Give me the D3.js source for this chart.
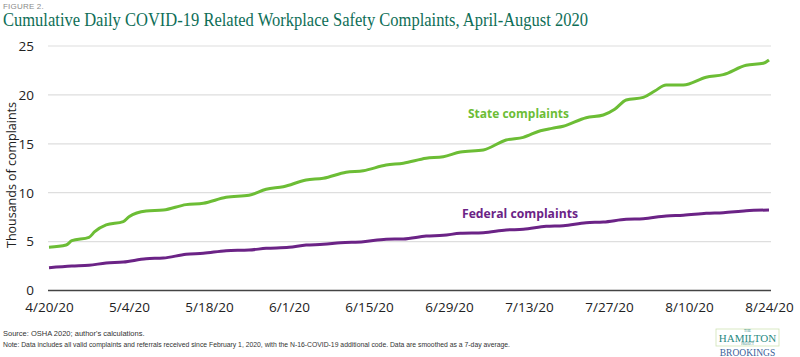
<!DOCTYPE html>
<html>
<head>
<meta charset="utf-8">
<script src="https://cdn.jsdelivr.net/npm/d3@7"></script>
<style>
  html, body { margin: 0; padding: 0; background: #fff; }
  svg { display: block; }
</style>
</head>
<body>
<svg id="chart" width="800" height="357"></svg>
<script>
// ---- Data (thousands of complaints, cumulative, 7-day smoothed) ----
const stateDates = ["2020-04-20","2020-04-23","2020-04-24","2020-04-27","2020-04-28","2020-04-30","2020-05-03","2020-05-04","2020-05-07","2020-05-10","2020-05-14","2020-05-17","2020-05-21","2020-05-25","2020-05-28","2020-05-31","2020-06-04","2020-06-07","2020-06-11","2020-06-14","2020-06-18","2020-06-21","2020-06-25","2020-06-28","2020-07-01","2020-07-05","2020-07-09","2020-07-12","2020-07-15","2020-07-17","2020-07-19","2020-07-23","2020-07-26","2020-07-28","2020-07-30","2020-08-02","2020-08-04","2020-08-06","2020-08-09","2020-08-13","2020-08-16","2020-08-20","2020-08-23","2020-08-24"];
const stateValues = [4.42,4.65,5.09,5.44,6.01,6.70,7.04,7.55,8.13,8.23,8.78,8.92,9.53,9.73,10.35,10.61,11.30,11.47,12.09,12.25,12.83,13.01,13.52,13.68,14.16,14.37,15.39,15.66,16.34,16.58,16.79,17.67,17.94,18.53,19.48,19.75,20.40,21.01,21.01,21.80,22.07,23.03,23.23,23.57];

const federalDates = ["2020-04-20","2020-04-24","2020-04-27","2020-04-30","2020-05-03","2020-05-07","2020-05-10","2020-05-14","2020-05-17","2020-05-21","2020-05-25","2020-05-28","2020-06-01","2020-06-04","2020-06-07","2020-06-10","2020-06-14","2020-06-18","2020-06-21","2020-06-25","2020-06-28","2020-07-01","2020-07-05","2020-07-09","2020-07-12","2020-07-16","2020-07-19","2020-07-23","2020-07-26","2020-07-30","2020-08-02","2020-08-06","2020-08-09","2020-08-13","2020-08-16","2020-08-20","2020-08-24"];
const federalValues = [2.33,2.50,2.58,2.81,2.91,3.25,3.32,3.70,3.80,4.07,4.14,4.31,4.42,4.65,4.72,4.89,4.99,5.24,5.27,5.57,5.64,5.85,5.91,6.19,6.26,6.56,6.63,6.93,7.00,7.28,7.34,7.62,7.69,7.89,7.96,8.16,8.23];

const xTickDates = ["2020-04-20","2020-05-04","2020-05-18","2020-06-01","2020-06-15","2020-06-29","2020-07-13","2020-07-27","2020-08-10","2020-08-24"];
const yTickValues = [0,5,10,15,20,25];

const seriesNames = ["State complaints","Federal complaints"];

// ---- Setup ----
const parse = d3.timeParse("%Y-%m-%d");
const svg = d3.select("#chart");
const green = "#6cbd35", purple = "#6b2386";

const x = d3.scaleTime()
  .domain([parse("2020-04-20"), parse("2020-08-24")])
  .range([49, 769]);
const y = d3.scaleLinear().domain([0, 25]).range([290.5, 46]);

// Title
svg.append("text").attr("x", 3).attr("y", 9)
  .attr("font-family", "Liberation Sans, Arial, sans-serif")
  .attr("font-size", 8).attr("fill", "#8a8a8a").attr("letter-spacing", 0.2)
  .text("FIGURE 2.");
svg.append("text").attr("x", 3).attr("y", 26)
  .attr("font-family", "Liberation Serif, Times New Roman, serif")
  .attr("font-size", 18).attr("fill", "#0e6e57")
  .attr("textLength", 585).attr("lengthAdjust", "spacingAndGlyphs")
  .text("Cumulative Daily COVID-19 Related Workplace Safety Complaints, April-August 2020");

// Gridlines
svg.append("g").selectAll("line").data(yTickValues.filter(v => v > 0)).join("line")
  .attr("x1", 48).attr("x2", 771)
  .attr("y1", d => y(d)).attr("y2", d => y(d))
  .attr("stroke", "#dedede").attr("stroke-width", 1.2);

// Y axis
const yAxis = d3.axisLeft(y).tickValues(yTickValues).tickSize(0).tickPadding(0);
const yg = svg.append("g").attr("transform", "translate(34,0)").call(yAxis);
yg.select(".domain").remove();
yg.selectAll("text")
  .attr("font-family", "Open Sans, sans-serif")
  .attr("font-size", 13.5).attr("fill", "#222");

// Baseline
svg.append("line").attr("x1", 48).attr("x2", 771)
  .attr("y1", y(0)).attr("y2", y(0))
  .attr("stroke", "#444").attr("stroke-width", 1.3);

// X axis
const xAxis = d3.axisBottom(x)
  .tickValues(xTickDates.map(parse))
  .tickFormat(d3.timeFormat("%-m/%-d/%y"))
  .tickSize(0).tickPadding(0);
const xg = svg.append("g").attr("transform", "translate(0,302.5)").call(xAxis);
xg.select(".domain").remove();
xg.selectAll("text")
  .attr("font-family", "Open Sans, sans-serif")
  .attr("font-size", 13.5).attr("fill", "#222");

// Y axis title
svg.append("text")
  .attr("transform", "translate(16,175) rotate(-90)")
  .attr("text-anchor", "middle")
  .attr("font-family", "Open Sans, sans-serif")
  .attr("font-size", 13.5).attr("fill", "#222")
  .attr("textLength", 146).attr("lengthAdjust", "spacingAndGlyphs")
  .text("Thousands of complaints");

// Lines
const line = d3.line().x(d => x(d[0])).y(d => y(d[1])).curve(d3.curveMonotoneX);
const stateData = stateDates.map((d, i) => [parse(d), stateValues[i]]);
const fedData = federalDates.map((d, i) => [parse(d), federalValues[i]]);

svg.append("path").datum(fedData).attr("d", line)
  .attr("fill", "none").attr("stroke", purple).attr("stroke-width", 3)
  .attr("stroke-linejoin", "round");
svg.append("path").datum(stateData).attr("d", line)
  .attr("fill", "none").attr("stroke", green).attr("stroke-width", 3)
  .attr("stroke-linejoin", "round");

// Series labels
svg.append("text").attr("x", 468).attr("y", 118)
  .attr("font-family", "Open Sans, sans-serif").attr("font-weight", "bold")
  .attr("font-size", 13).attr("fill", green)
  .attr("textLength", 101).attr("lengthAdjust", "spacingAndGlyphs")
  .text(seriesNames[0]);
svg.append("text").attr("x", 462).attr("y", 218)
  .attr("font-family", "Open Sans, sans-serif").attr("font-weight", "bold")
  .attr("font-size", 13).attr("fill", purple)
  .attr("textLength", 116).attr("lengthAdjust", "spacingAndGlyphs")
  .text(seriesNames[1]);

// Source / note
svg.append("text").attr("x", 3).attr("y", 335.5)
  .attr("font-family", "Liberation Sans, Arial, sans-serif")
  .attr("font-size", 7.5).attr("fill", "#333")
  .text("Source: OSHA 2020; author's calculations.");
svg.append("text").attr("x", 3).attr("y", 346.5)
  .attr("font-family", "Liberation Sans, Arial, sans-serif")
  .attr("font-size", 7.5).attr("fill", "#333")
  .attr("textLength", 507).attr("lengthAdjust", "spacingAndGlyphs")
  .text("Note: Data includes all valid complaints and referrals received since February 1, 2020, with the N-16-COVID-19 additional code. Data are smoothed as a 7-day average.");

// Logo
const logo = svg.append("g");
logo.append("rect").attr("x", 716).attr("y", 329).attr("width", 63).attr("height", 17)
  .attr("fill", "none").attr("stroke", "#cfe3b4").attr("stroke-width", 0.8);
logo.append("text").attr("x", 747.5).attr("y", 332)
  .attr("text-anchor", "middle").attr("font-family", "Liberation Serif, serif")
  .attr("font-size", 3.5).attr("fill", "#2a7f78").text("THE");
logo.append("text").attr("x", 747.5).attr("y", 341.5)
  .attr("text-anchor", "middle").attr("font-family", "Liberation Serif, serif")
  .attr("font-size", 11).attr("fill", "#2a8a82").text("HAMILTON");
logo.append("text").attr("x", 747.5).attr("y", 345.3)
  .attr("text-anchor", "middle").attr("font-family", "Liberation Serif, serif")
  .attr("font-size", 3).attr("fill", "#2a7f78").text("PROJECT");
logo.append("text").attr("x", 747.5).attr("y", 356)
  .attr("text-anchor", "middle").attr("font-family", "Liberation Serif, serif")
  .attr("font-size", 9.5).attr("fill", "#3a5f9a").text("BROOKINGS");
</script>
</body>
</html>
